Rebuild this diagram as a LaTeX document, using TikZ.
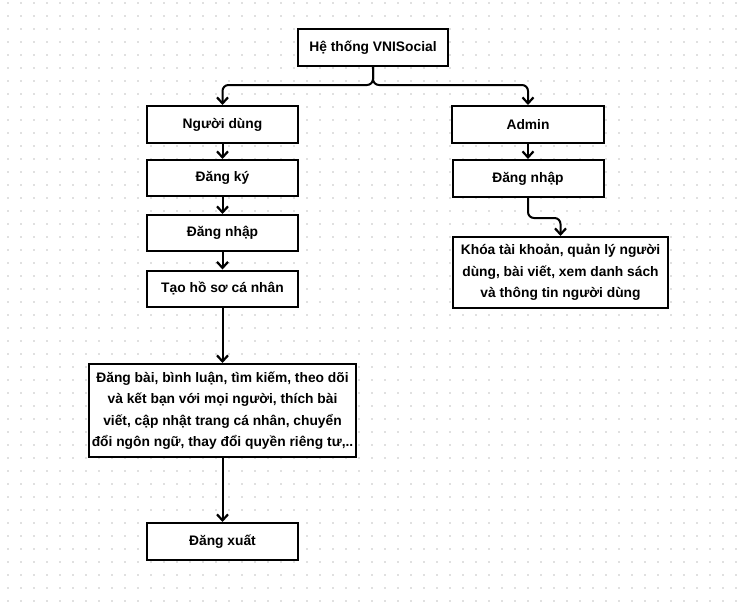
\documentclass[tikz,border=0pt]{standalone}
\usepackage{fontspec}
\setmainfont{Liberation Sans}
\usetikzlibrary{arrows.meta}
\begin{document}
\begin{tikzpicture}[x=1pt,y=-1pt,
  box/.style={draw=black, line width=2pt, fill=white, align=center,
    inner sep=0pt, font=\fontsize{13.8pt}{21.5pt}\selectfont\bfseries},
  conn/.style={line width=2pt, rounded corners=6pt,
    -{Straight Barb[length=6pt,width=11pt,line width=2.2pt]}},
  dotc/.style={fill=black!12, draw=none}]
\useasboundingbox (0,0) rectangle (738,605);
\fill[white] (0,0) rectangle (738,605);
\foreach \i in {0,...,56} {
  \foreach \j in {0,...,46} {
    \fill[dotc] ({8+13*\i-1},{3+13*\j-1}) rectangle ++(2,2);
  }
}
% nodes
\node[box, minimum width=150, minimum height=37] (top) at (373,47.5) {Hệ thống VNISocial};
\node[box, minimum width=151, minimum height=37] (user) at (222.5,124.5) {Người dùng};
\node[box, minimum width=151, minimum height=36] (dk) at (222.5,178) {Đăng ký};
\node[box, minimum width=151, minimum height=36] (dn1) at (222.5,233) {Đăng nhập};
\node[box, minimum width=151, minimum height=36] (hs) at (222.5,288.5) {Tạo hồ sơ cá nhân};
\node[box, minimum width=267, minimum height=93] (big) at (222.5,410.5)
  {Đăng bài, bình luận, tìm kiếm, theo dõi\\ và kết bạn với mọi người, thích bài\\ viết, cập nhật trang cá nhân, chuyển\\ đổi ngôn ngữ, thay đổi quyền riêng tư,..};
\node[box, minimum width=151, minimum height=37] (dx) at (222.5,541.5) {Đăng xuất};
\node[box, minimum width=152, minimum height=37] (admin) at (528,124.5) {Admin};
\node[box, minimum width=151, minimum height=37] (dn2) at (528,178.5) {Đăng nhập};
\node[box, minimum width=215, minimum height=71] (abig) at (560.5,272.5)
  {Khóa tài khoản, quản lý người\\ dùng, bài viết, xem danh sách\\ và thông tin người dùng};
% connectors
\coordinate (j) at ([yshift=-18pt]top.south);
\draw[conn] (top.south) -- (j) -| (user.north);
\draw[conn] (top.south) -- (j) -| (admin.north);
\draw[conn] (user) -- (dk);
\draw[conn] (dk) -- (dn1);
\draw[conn] (dn1) -- (hs);
\draw[conn] (hs) -- (big);
\draw[conn] (big) -- (dx);
\draw[conn] (admin) -- (dn2);
\draw[conn] (dn2.south) -- ++(0,20) -| (abig.north);
\end{tikzpicture}
\end{document}
